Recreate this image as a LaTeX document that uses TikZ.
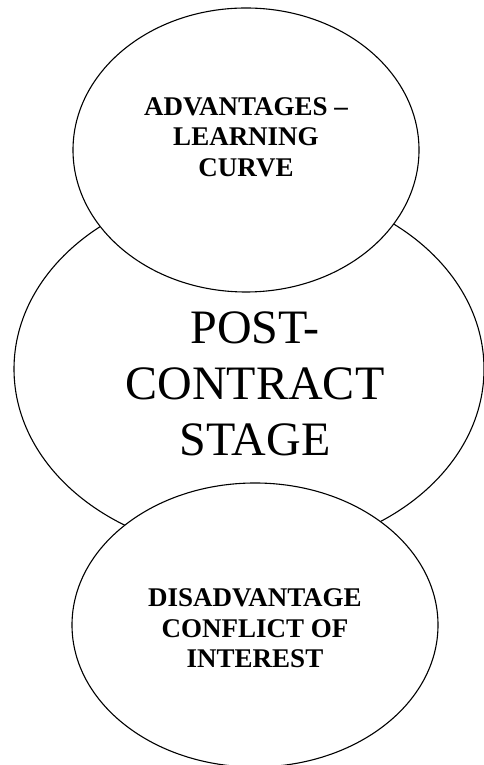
\documentclass[tikz,border=0pt]{standalone}
\usepackage{fontspec}
\setmainfont{Liberation Serif}
\usetikzlibrary{shapes.geometric}
\tikzset{
  bubble/.style={ellipse, draw=black, fill=white, line width=1.1pt, inner sep=0pt},
  smalltext/.style={align=center, inner sep=0pt, font=\fontsize{27}{30.5}\selectfont\bfseries},
  bigtext/.style={align=center, inner sep=0pt, font=\fontsize{48}{56}\selectfont}
}
\begin{document}
\begin{tikzpicture}[x=1pt,y=1pt]
\useasboundingbox (0,0) rectangle (484,765);
\node[bubble, minimum width=470pt, minimum height=368pt] (post) at (249,396) {};
\node[bubble, minimum width=346pt, minimum height=284pt] (adv) at (246,615) {};
\node[bubble, minimum width=366pt, minimum height=284pt] (dis) at (255,140) {};
\node[bigtext] (posttext) at (255,381.5) {POST-\\CONTRACT\\STAGE};
\node[smalltext] (advtext) at (246,628) {ADVANTAGES --\\LEARNING\\CURVE};
\node[smalltext] (distext) at (255,136.5) {DISADVANTAGE\\CONFLICT OF\\INTEREST};
\end{tikzpicture}
\end{document}
